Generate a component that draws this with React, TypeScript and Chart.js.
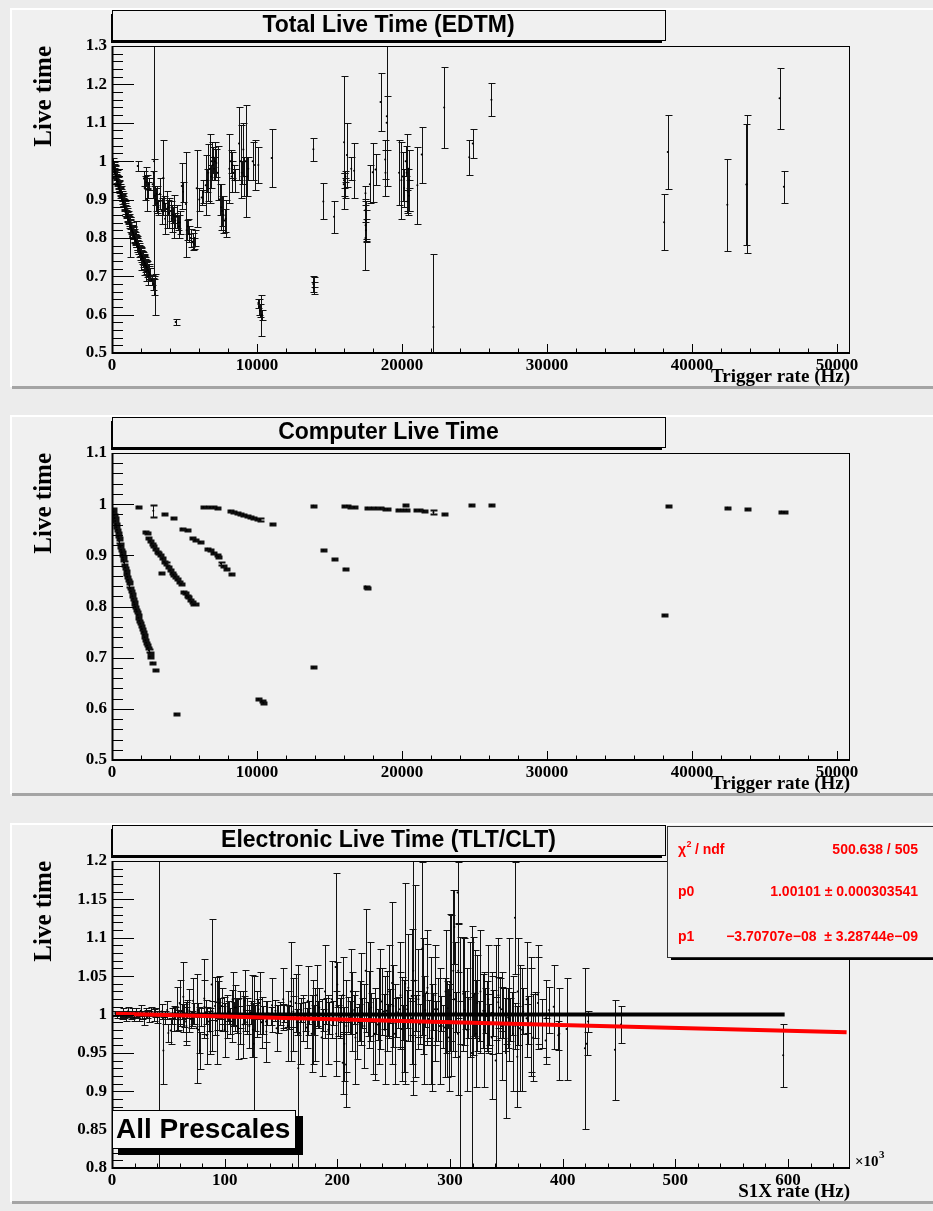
import React, { useEffect, useRef } from "react";
import { Chart, registerables } from "chart.js";

Chart.register(...registerables);

type Pt = [number, number, number]; // [x, live time, error]

// ================= Panel 1 : Total Live Time (EDTM) — x = trigger rate (Hz) =================
const edtmBand: Pt[] = [
  [60, 0.99, 0.009], [110, 0.983, 0.01], [160, 0.975, 0.008], [200, 0.969, 0.011], [250, 0.962, 0.009],
  [300, 0.954, 0.012], [340, 0.948, 0.01], [390, 0.941, 0.011], [430, 0.936, 0.009], [480, 0.929, 0.012],
  [520, 0.923, 0.01], [570, 0.916, 0.013], [610, 0.911, 0.011], [660, 0.905, 0.01], [700, 0.899, 0.012],
  [750, 0.893, 0.011], [800, 0.887, 0.013], [850, 0.88, 0.01], [900, 0.874, 0.012], [950, 0.868, 0.014],
  [1000, 0.862, 0.011], [1060, 0.855, 0.013], [1120, 0.848, 0.012], [1180, 0.841, 0.015], [1240, 0.834, 0.012],
  [1300, 0.828, 0.014], [1360, 0.821, 0.013], [1420, 0.815, 0.016], [1480, 0.809, 0.012], [1540, 0.802, 0.015],
  [1600, 0.796, 0.014], [1660, 0.79, 0.013], [1720, 0.784, 0.016], [1790, 0.777, 0.014], [1850, 0.772, 0.015],
  [1920, 0.765, 0.013], [1990, 0.758, 0.016], [2060, 0.752, 0.014], [2130, 0.746, 0.017], [2200, 0.74, 0.015],
  [2270, 0.734, 0.016], [2340, 0.728, 0.014], [2410, 0.722, 0.017], [2480, 0.716, 0.015], [2550, 0.71, 0.018],
  [2610, 0.705, 0.016], [1250, 0.803, 0.052], [1650, 0.81, 0.035], [2000, 0.745, 0.03], [2220, 0.73, 0.028],
  [2360, 0.712, 0.025], [2500, 0.7, 0.022], [2740, 0.69, 0.012], [2850, 0.68, 0.015], [2930, 0.672, 0.02],
  [2970, 0.653, 0.054], [2900, 1.0, 0.3],
];
const edtmBand2: Pt[] = [
  [80, 0.995, 0.012], [130, 0.985, 0.014], [190, 0.978, 0.012], [230, 0.972, 0.015], [280, 0.963, 0.013],
  [320, 0.96, 0.016], [370, 0.95, 0.014], [410, 0.946, 0.012], [460, 0.937, 0.015], [500, 0.934, 0.013],
  [550, 0.924, 0.016], [590, 0.921, 0.014], [640, 0.913, 0.015], [680, 0.909, 0.013], [730, 0.9, 0.016],
  [780, 0.895, 0.014], [830, 0.887, 0.015], [880, 0.882, 0.013], [930, 0.874, 0.016], [980, 0.87, 0.014],
  [1030, 0.861, 0.017], [1090, 0.855, 0.015], [1150, 0.846, 0.016], [1210, 0.84, 0.014], [1270, 0.832, 0.017],
  [1330, 0.826, 0.015], [1390, 0.818, 0.016], [1450, 0.813, 0.015], [1510, 0.805, 0.017], [1570, 0.8, 0.016],
  [1630, 0.792, 0.015], [1690, 0.787, 0.018], [1750, 0.779, 0.016], [1820, 0.774, 0.017], [1880, 0.766, 0.015],
  [1950, 0.761, 0.018], [2020, 0.753, 0.016], [2090, 0.748, 0.017], [2160, 0.74, 0.016], [2230, 0.736, 0.018],
  [2300, 0.728, 0.016], [2370, 0.724, 0.018], [2440, 0.716, 0.017], [2520, 0.712, 0.019], [2580, 0.704, 0.017],
];
const edtmMid: Pt[] = [
  [1770, 0.987, 0.013], [2200, 0.955, 0.02], [2250, 0.93, 0.03], [2320, 0.96, 0.025], [2380, 0.945, 0.018],
  [2420, 0.9, 0.03], [2480, 0.925, 0.02], [2560, 0.94, 0.015], [2800, 0.94, 0.035], [2870, 0.97, 0.035],
  [2950, 0.91, 0.025], [3010, 0.9, 0.03], [3080, 0.915, 0.02], [3130, 0.89, 0.025], [3200, 0.88, 0.02],
  [3310, 0.915, 0.04], [3420, 0.87, 0.035], [3540, 0.957, 0.098], [3600, 0.89, 0.02], [3660, 0.85, 0.04],
  [3770, 0.875, 0.048], [3850, 0.88, 0.02], [3950, 0.865, 0.04], [4050, 0.87, 0.025], [4120, 0.85, 0.035],
  [4200, 0.86, 0.02], [4280, 0.856, 0.056], [4370, 0.845, 0.02], [4460, 0.855, 0.03], [4550, 0.84, 0.02],
  [4620, 0.83, 0.03], [4690, 0.84, 0.03], [4810, 0.935, 0.06], [4900, 0.92, 0.026], [5100, 0.888, 0.137],
  [5150, 0.82, 0.026], [5230, 0.83, 0.02], [5330, 0.81, 0.02], [5430, 0.8, 0.023], [5560, 0.79, 0.022],
  [5640, 0.785, 0.015], [5700, 0.8, 0.02], [5840, 0.929, 0.1], [6020, 0.9, 0.03], [6180, 0.905, 0.02],
  [6300, 0.92, 0.03], [6460, 0.937, 0.078], [6550, 0.95, 0.03], [6640, 0.97, 0.074], [6760, 0.98, 0.09],
  [6830, 0.96, 0.03], [6870, 1.0, 0.05], [6950, 0.99, 0.02], [6990, 1.01, 0.026], [7050, 0.98, 0.03],
  [7100, 1.0, 0.05], [7200, 0.995, 0.037], [7300, 0.97, 0.07], [7420, 0.9, 0.04], [7520, 0.88, 0.06],
  [7600, 0.87, 0.04], [7680, 0.86, 0.048], [7760, 0.845, 0.03], [7840, 0.85, 0.048], [8090, 0.98, 0.09],
  [8180, 1.0, 0.03], [8250, 0.96, 0.04], [8300, 0.99, 0.035], [8380, 0.97, 0.02], [8450, 0.95, 0.03],
  [8760, 1.046, 0.095], [8870, 1.0, 0.095], [8950, 0.97, 0.03], [9060, 1.03, 0.07], [9120, 0.96, 0.05],
  [9220, 1.0, 0.146], [9330, 0.96, 0.052], [9400, 0.98, 0.03], [9700, 1.0, 0.05], [9860, 0.99, 0.065],
  [10090, 0.99, 0.048], [11010, 1.008, 0.075], [10090, 0.63, 0.012], [10150, 0.62, 0.02], [10200, 0.61, 0.017],
  [10280, 0.597, 0.054], [10350, 0.6, 0.013], [4390, 0.581, 0.007],
];
const edtmHigh: Pt[] = [
  [13890, 1.031, 0.03], [13880, 0.68, 0.02], [13900, 0.67, 0.015], [13920, 0.685, 0.012],
  [14575, 0.895, 0.047], [15315, 0.855, 0.041], [16005, 1.049, 0.174], [15980, 0.94, 0.03], [16000, 0.95, 0.02],
  [16050, 0.93, 0.025], [16100, 0.96, 0.015], [16200, 1.016, 0.083], [16500, 0.98, 0.03], [16700, 0.975, 0.072],
  [17470, 0.872, 0.03], [17480, 0.916, 0.02], [17490, 0.833, 0.04], [17500, 0.846, 0.05], [17510, 0.82, 0.03],
  [17480, 0.8, 0.085], [17780, 0.94, 0.05], [17980, 0.971, 0.077], [18175, 0.978, 0.04], [18520, 1.154, 0.075],
  [18840, 1.004, 0.05], [18860, 0.97, 0.06], [18940, 1.1, 0.07], [18950, 1.117, 0.183], [19800, 0.97, 0.085],
  [19960, 0.95, 0.1], [20060, 0.96, 0.065], [20150, 0.93, 0.05], [20250, 1.0, 0.04], [20320, 0.97, 0.1],
  [20380, 0.895, 0.03], [20400, 0.92, 0.06], [20450, 0.98, 0.05], [20480, 0.91, 0.04], [20500, 0.95, 0.08],
  [21060, 0.937, 0.1], [21360, 1.017, 0.073], [22170, 0.568, 0.19], [22910, 1.14, 0.106], [24640, 1.01, 0.046],
  [24880, 1.046, 0.037], [26170, 1.16, 0.043], [38080, 0.841, 0.073], [38330, 1.024, 0.097],
  [42440, 0.886, 0.119], [43750, 0.939, 0.157], [43800, 0.94, 0.18], [46040, 1.164, 0.079], [46340, 0.933, 0.041],
];

// ================= Panel 2 : Computer Live Time =================
const cltBandA: Pt[] = [
  [60, 0.991, 0.002], [100, 0.985, 0.002], [140, 0.979, 0.002], [180, 0.973, 0.002], [220, 0.967, 0.002],
  [260, 0.961, 0.002], [300, 0.955, 0.002], [340, 0.95, 0.002], [380, 0.944, 0.002], [420, 0.938, 0.002],
  [460, 0.933, 0.002], [500, 0.927, 0.002], [540, 0.922, 0.002], [580, 0.917, 0.002], [620, 0.911, 0.002],
  [660, 0.906, 0.002], [700, 0.901, 0.002], [740, 0.896, 0.002], [780, 0.891, 0.002], [820, 0.886, 0.002],
  [860, 0.881, 0.002], [900, 0.876, 0.002], [950, 0.87, 0.002], [1000, 0.864, 0.002], [1050, 0.858, 0.002],
  [1100, 0.852, 0.002], [1150, 0.847, 0.002], [1200, 0.841, 0.002], [1250, 0.836, 0.002], [1300, 0.83, 0.002],
  [1350, 0.825, 0.002], [1400, 0.82, 0.002], [1450, 0.815, 0.002], [1500, 0.809, 0.002], [1550, 0.804, 0.002],
  [1600, 0.799, 0.002], [1650, 0.794, 0.002], [1700, 0.79, 0.002], [1760, 0.784, 0.002], [1820, 0.778, 0.002],
  [1880, 0.772, 0.002], [1940, 0.767, 0.002], [2000, 0.761, 0.002], [2060, 0.756, 0.002], [2120, 0.75, 0.002],
  [2180, 0.745, 0.002], [2240, 0.74, 0.002], [2300, 0.734, 0.002], [2360, 0.729, 0.002], [2420, 0.724, 0.002],
  [2480, 0.719, 0.002], [2540, 0.714, 0.002], [2600, 0.71, 0.002], [2590, 0.702, 0.002], [2770, 0.69, 0.002],
  [3000, 0.675, 0.002],
];
const cltBandB: Pt[] = [
  [2276, 0.946, 0.002], [2391, 0.943, 0.002], [2506, 0.933, 0.002], [2620, 0.928, 0.002], [2736, 0.923, 0.002],
  [2851, 0.918, 0.002], [2966, 0.913, 0.002], [3080, 0.907, 0.002], [3195, 0.904, 0.002], [3310, 0.9, 0.002],
  [3471, 0.894, 0.002], [3586, 0.887, 0.002], [3701, 0.884, 0.002], [3839, 0.878, 0.002], [4000, 0.871, 0.002],
  [4115, 0.866, 0.002], [4230, 0.862, 0.002], [4345, 0.858, 0.002], [4460, 0.853, 0.002], [4621, 0.848, 0.002],
  [4759, 0.844, 0.002], [4920, 0.829, 0.002], [5034, 0.826, 0.002], [5149, 0.821, 0.002], [5264, 0.818, 0.002],
  [5379, 0.813, 0.002], [5494, 0.809, 0.002], [5609, 0.804, 0.002], [5724, 0.804, 0.002], [3356, 0.865, 0.002],
];
const cltBandC: Pt[] = [
  [4805, 0.952, 0.002], [5149, 0.949, 0.002], [5494, 0.933, 0.002], [5724, 0.93, 0.002], [6069, 0.926, 0.002],
  [6575, 0.913, 0.002], [6759, 0.911, 0.002], [6989, 0.905, 0.002], [7218, 0.9, 0.002], [7333, 0.897, 0.002],
  [7517, 0.884, 0.002], [7678, 0.879, 0.002], [7862, 0.874, 0.002], [8207, 0.863, 0.002],
];
const cltTop: Pt[] = [
  [1770, 0.995, 0.002], [2850, 0.987, 0.012], [3600, 0.981, 0.002], [4180, 0.973, 0.002], [6299, 0.994, 0.002],
  [6529, 0.995, 0.002], [6759, 0.994, 0.002], [6989, 0.994, 0.002], [7218, 0.992, 0.002], [8138, 0.987, 0.002],
  [8368, 0.985, 0.002], [8598, 0.983, 0.002], [8828, 0.981, 0.002], [9057, 0.979, 0.002], [9287, 0.977, 0.002],
  [9517, 0.974, 0.002], [9747, 0.973, 0.002], [9977, 0.971, 0.002], [10207, 0.97, 0.002], [11011, 0.961, 0.002],
  [13885, 0.997, 0.002], [16000, 0.996, 0.002], [16200, 0.997, 0.002], [16400, 0.995, 0.002], [16700, 0.994, 0.002],
  [17600, 0.993, 0.002], [17900, 0.993, 0.002], [18200, 0.993, 0.002], [18500, 0.992, 0.002], [18800, 0.991, 0.002],
  [19000, 0.99, 0.002], [19700, 0.989, 0.002], [19900, 0.989, 0.002], [20100, 0.989, 0.002], [20300, 0.989, 0.002],
  [20200, 0.998, 0.002], [20940, 0.988, 0.002], [21200, 0.988, 0.002], [21500, 0.987, 0.002], [22170, 0.984, 0.004],
  [22910, 0.98, 0.002], [24760, 0.998, 0.002], [26170, 0.998, 0.002], [38320, 0.996, 0.002], [42440, 0.993, 0.002],
  [43800, 0.99, 0.002], [46170, 0.985, 0.002], [46350, 0.984, 0.002],
];
const cltOther: Pt[] = [
  [4391, 0.59, 0.002], [10092, 0.619, 0.002], [10322, 0.615, 0.002], [10437, 0.612, 0.002], [13885, 0.681, 0.002],
  [14575, 0.91, 0.002], [15315, 0.892, 0.002], [16055, 0.874, 0.002], [17485, 0.839, 0.002], [17560, 0.837, 0.002],
  [38080, 0.783, 0.002],
];

// ================= Panel 3 : Electronic Live Time (TLT/CLT) — x = S1X rate (kHz) =================
const eltStart: Pt[] = [
  [3, 1.001, 0.003], [4.5, 0.999, 0.004], [6, 1.002, 0.003], [7, 1.0, 0.005], [8.5, 0.998, 0.004],
  [10, 1.003, 0.006], [11, 1.0, 0.004], [12.5, 0.997, 0.005], [14, 1.004, 0.006], [15.5, 1.001, 0.004],
  [17, 0.999, 0.005], [18, 1.002, 0.007], [19.5, 0.996, 0.005], [21, 1.003, 0.006], [22.5, 1.0, 0.004],
  [24, 0.998, 0.006], [25.5, 1.005, 0.007], [27, 0.999, 0.005], [28.5, 0.994, 0.008], [30, 1.002, 0.006],
  [31.5, 1.001, 0.005], [33, 0.997, 0.007], [35, 1.004, 0.006], [37, 0.999, 0.008], [41.7, 1.0, 0.32],
];
const eltMid: Pt[] = [
  [45.6, 0.953, 0.044], [50, 0.976, 0.012], [52, 0.979, 0.017], [55, 0.995, 0.016], [58, 1.007, 0.029],
  [60.3, 0.996, 0.009], [63.3, 1.023, 0.046], [65.7, 0.991, 0.025], [68.6, 1.005, 0.028], [71.3, 0.995, 0.01],
  [75.1, 0.982, 0.071], [78, 0.953, 0.024], [81.9, 1.021, 0.051], [84, 0.973, 0.037], [88.4, 1.039, 0.086],
  [91.4, 1.011, 0.038], [92.8, 0.992, 0.057], [94.3, 1.02, 0.024], [97.3, 1.011, 0.023], [99.4, 1.001, 0.022],
  [101.7, 0.998, 0.028], [104, 1.003, 0.015], [106.2, 0.998, 0.034], [109.1, 1.009, 0.03], [111.2, 0.998, 0.022],
  [113.6, 0.996, 0.035], [116.5, 0.987, 0.044], [119.5, 0.998, 0.024], [121.9, 0.985, 0.028], [124, 0.998, 0.053],
  [126, 0.962, 0.088], [128.4, 1.001, 0.03], [132.8, 0.99, 0.033], [136.7, 0.991, 0.027], [149, 1.001, 0.015],
  [151.5, 0.998, 0.016], [155, 0.998, 0.014], [158.5, 1.017, 0.078], [160.3, 1.0, 0.047], [165.3, 0.93, 0.135],
  [169.7, 0.996, 0.03], [172.7, 0.983, 0.026], [177.2, 0.975, 0.05], [180.1, 0.987, 0.048], [184, 1.009, 0.026],
  [187, 0.993, 0.014], [198.5, 1.062, 0.122], [200, 1.039, 0.029], [202.4, 0.996, 0.026], [204.7, 0.937, 0.04],
  [206.2, 0.962, 0.048], [207.7, 0.935, 0.055], [209.7, 1.0, 0.023], [213.3, 1.004, 0.051], [217.1, 0.976, 0.034],
  [220.1, 1.005, 0.039], [225.1, 1.057, 0.08], [228.3, 1.007, 0.05], [231.9, 0.972, 0.049], [237.2, 0.998, 0.063],
  [239.3, 1.017, 0.044], [243.7, 1.005, 0.052], [248.5, 1.041, 0.106], [249.6, 1.011, 0.053], [255.6, 1.007, 0.049],
  [257, 0.981, 0.068], [260.3, 1.04, 0.131], [264.4, 0.993, 0.028], [265.9, 1.024, 0.088], [267.4, 1.057, 0.143],
  [268.9, 1.044, 0.125], [271.8, 1.001, 0.03], [275.4, 1.086, 0.113], [276.3, 1.024, 0.076], [279.2, 1.029, 0.063],
  [283.1, 0.992, 0.083], [286.6, 1.007, 0.068], [289, 1.007, 0.041], [297, 0.981, 0.063], [300, 1.042, 0.089],
  [302.9, 1.057, 0.105], [307.3, 1.057, 0.061],
];
const eltHigh: Pt[] = [
  [295.5, 0.983, 0.065], [300.5, 1.025, 0.105], [303.8, 1.114, 0.048], [306.7, 1.159, 0.04], [308.8, 0.945, 0.156],
  [311.7, 1.027, 0.074], [319.4, 0.95, 0.165], [320.6, 1.024, 0.077], [322, 1.027, 0.057], [324.2, 1.015, 0.062],
  [329.5, 1.005, 0.048], [332.4, 0.998, 0.045], [333.9, 0.992, 0.035], [336.9, 1.002, 0.053], [340.5, 0.94, 0.15],
  [342.8, 1.016, 0.033], [344.3, 1.009, 0.039], [347.2, 1.002, 0.032], [348.7, 0.987, 0.035], [349.5, 0.95, 0.085],
  [351.6, 0.996, 0.039], [353.1, 0.994, 0.028], [357.6, 1.126, 0.073], [359.7, 0.945, 0.066], [362, 0.982, 0.082],
  [367.9, 0.995, 0.019], [371.5, 1.0, 0.075], [373.8, 0.97, 0.057], [377.7, 1.026, 0.065], [384.8, 0.966, 0.03],
  [396, 0.973, 0.019], [397, 0.975, 0.06], [403.4, 0.981, 0.066], [419.7, 0.956, 0.105], [421.2, 0.962, 0.015],
  [422.6, 0.991, 0.014], [446.3, 0.954, 0.065], [451.7, 0.987, 0.024], [595.7, 0.947, 0.041],
];
const eltDense: Pt[] = [
  [38, 1.003, 0.006], [40, 0.997, 0.008], [44, 1.004, 0.01], [47, 0.996, 0.009], [49, 1.006, 0.012],
  [53, 0.998, 0.01], [56, 1.002, 0.008], [59, 0.993, 0.013], [62, 1.004, 0.01], [64, 0.999, 0.015],
  [67, 1.007, 0.012], [70, 0.994, 0.011], [73, 1.001, 0.014], [76, 1.006, 0.009], [79, 0.997, 0.012],
  [83, 1.003, 0.016], [86, 0.991, 0.013], [89, 1.005, 0.012], [93, 0.998, 0.018], [96, 1.008, 0.014],
  [98, 0.995, 0.016], [103, 1.004, 0.013], [105, 0.992, 0.017], [108, 1.001, 0.015], [110, 1.009, 0.012],
  [114, 0.997, 0.014], [117, 1.006, 0.018], [120, 0.99, 0.016], [123, 1.003, 0.015], [127, 0.996, 0.017],
  [130, 1.007, 0.013], [134, 0.993, 0.018], [138, 1.002, 0.016], [141, 0.998, 0.012], [145, 1.005, 0.014],
  [147, 0.994, 0.018], [153, 1.001, 0.011], [157, 0.996, 0.015], [161, 1.004, 0.02], [164, 0.99, 0.017],
  [168, 1.006, 0.016], [171, 0.997, 0.019], [175, 1.003, 0.015], [179, 0.993, 0.02], [183, 1.0, 0.018],
  [190, 1.005, 0.017], [193, 0.995, 0.021], [196, 1.002, 0.016], [201, 0.992, 0.02], [203, 1.008, 0.018],
  [211, 0.996, 0.022], [215, 1.006, 0.019], [219, 0.99, 0.024], [222, 1.002, 0.02], [227, 0.994, 0.022],
  [230, 1.009, 0.019], [234, 0.998, 0.024], [236, 0.987, 0.02], [241, 1.004, 0.023], [245, 0.993, 0.021],
  [247, 1.011, 0.022], [252, 0.996, 0.025], [254, 1.003, 0.02], [258, 0.99, 0.023], [262, 1.007, 0.025],
  [266, 0.995, 0.022], [270, 1.002, 0.024], [273, 0.988, 0.026], [278, 1.006, 0.022], [281, 0.994, 0.025],
  [285, 1.004, 0.024], [288, 0.991, 0.026], [292, 1.001, 0.023], [294, 0.985, 0.028], [298, 1.008, 0.025],
  [301, 0.993, 0.027], [305, 1.003, 0.026], [309, 0.989, 0.028], [313, 1.006, 0.025], [316, 0.996, 0.027],
  [321, 1.0, 0.028], [326, 0.992, 0.026], [331, 1.005, 0.029], [335, 0.987, 0.027], [338, 1.002, 0.03],
  [341, 0.995, 0.028], [346, 1.007, 0.029], [350, 0.991, 0.03], [355, 1.001, 0.028], [358, 0.985, 0.03],
  [365, 1.004, 0.03], [369, 0.993, 0.031], [375, 0.999, 0.03], [382, 0.988, 0.032], [388, 1.006, 0.03],
];
const eltSpread: Pt[] = [
  [60, 1.015, 0.03], [66, 0.985, 0.025], [72, 1.018, 0.03], [77, 0.98, 0.03], [82, 1.01, 0.035],
  [87, 0.978, 0.03], [95, 1.015, 0.035], [100, 0.98, 0.035], [107, 1.02, 0.035], [112, 0.982, 0.04],
  [118, 1.018, 0.04], [125, 0.98, 0.035], [131, 1.015, 0.04], [137, 0.978, 0.04], [142, 1.012, 0.035],
  [146, 0.982, 0.03], [152, 1.02, 0.04], [156, 0.985, 0.045], [163, 1.015, 0.038], [167, 0.975, 0.04],
  [174, 1.018, 0.045], [178, 0.99, 0.055], [182, 1.025, 0.04], [186, 0.97, 0.05], [189, 1.03, 0.06],
  [192, 0.98, 0.045], [195, 1.02, 0.05], [199, 0.975, 0.055], [205, 1.025, 0.05], [208, 0.985, 0.06],
  [212, 1.03, 0.055], [216, 0.97, 0.06], [221, 1.02, 0.06], [224, 0.985, 0.055], [229, 1.03, 0.065],
  [233, 0.975, 0.06], [238, 1.02, 0.065], [242, 0.98, 0.07], [246, 1.03, 0.06], [251, 0.975, 0.065],
  [256, 1.025, 0.07], [259, 0.985, 0.06], [263, 1.035, 0.07], [267, 0.97, 0.075], [272, 1.02, 0.065],
  [277, 0.98, 0.07], [280, 1.035, 0.075], [284, 0.97, 0.07], [287, 1.025, 0.065], [291, 0.985, 0.075],
  [296, 1.03, 0.08], [299, 0.97, 0.07], [304, 1.02, 0.075], [307, 0.975, 0.08], [312, 1.03, 0.07],
  [315, 0.98, 0.08], [318, 1.02, 0.075], [323, 0.975, 0.07], [327, 1.03, 0.08], [330, 0.98, 0.075],
  [334, 1.02, 0.07], [337, 0.97, 0.08], [343, 1.025, 0.075], [346, 0.985, 0.07], [352, 1.02, 0.08],
  [356, 0.975, 0.075], [360, 1.03, 0.07], [364, 0.98, 0.08], [368, 1.02, 0.075], [372, 0.99, 0.07],
  [378, 1.015, 0.06], [385, 0.995, 0.05], [392, 1.01, 0.055],
];

const fitParams = [1.00101, -3.70707e-8]; // p0, p1 (per Hz)
const fitRangeK = [3.5, 652];
const unityLineK = [3.5, 597];
const unityLineY = [1, 1];
const statsLabels = ["χ2 / ndf", "p0", "p1"];
const statsValues = ["500.638 / 505", "1.00101 ± 0.000303541", "−3.70707e−08  ± 3.28744e−09"];

// Tick values
const rateTicks = [0, 10000, 20000, 30000, 40000, 50000];
const s1xTicks = [0, 100, 200, 300, 400, 500, 600];
const edtmYTicks = [0.5, 0.6, 0.7, 0.8, 0.9, 1, 1.1, 1.2, 1.3];
const cltYTicks = [0.5, 0.6, 0.7, 0.8, 0.9, 1, 1.1];
const eltYTicks = [0.8, 0.85, 0.9, 0.95, 1, 1.05, 1.1, 1.15, 1.2];

const SERIF = '"Liberation Serif", "Times New Roman", Times, serif';
const SANS = '"Liberation Sans", Arial, Helvetica, sans-serif';

type Spec = {
  title: string;
  points: Pt[];
  xMin: number; xMax: number; xMinor: number; xTicks: number[]; xTitle: string;
  yMin: number; yMax: number; yMinor: number; yTicks: number[];
  cap: number; capWidth: number;
  elt?: boolean;
};

const specs: Spec[] = [
  {
    title: "Total Live Time (EDTM)",
    points: [...edtmBand, ...edtmBand2, ...edtmMid, ...edtmHigh],
    xMin: 0, xMax: 50900, xMinor: 2000, xTicks: rateTicks, xTitle: "Trigger rate (Hz)",
    yMin: 0.5, yMax: 1.3, yMinor: 0.02, yTicks: edtmYTicks, cap: 3, capWidth: 1,
  },
  {
    title: "Computer Live Time",
    points: [...cltBandA, ...cltBandB, ...cltBandC, ...cltTop, ...cltOther],
    xMin: 0, xMax: 50900, xMinor: 2000, xTicks: rateTicks, xTitle: "Trigger rate (Hz)",
    yMin: 0.5, yMax: 1.1, yMinor: 0.02, yTicks: cltYTicks, cap: 3, capWidth: 2,
  },
  {
    title: "Electronic Live Time (TLT/CLT)",
    points: [...eltStart, ...eltMid, ...eltHigh, ...eltDense, ...eltSpread],
    xMin: 0, xMax: 655, xMinor: 20, xTicks: s1xTicks, xTitle: "S1X rate (Hz)",
    yMin: 0.8, yMax: 1.2, yMinor: 0.01, yTicks: eltYTicks, cap: 3, capWidth: 1, elt: true,
  },
];

function makePlugin(spec: Spec) {
  return {
    id: "rootPanel",
    beforeDraw(chart: any) {
      const ctx = chart.ctx;
      ctx.save();
      ctx.fillStyle = "#f0f0f0";
      ctx.fillRect(10, 8, 930, 381);
      ctx.fillStyle = "#ffffff";
      ctx.fillRect(10, 8, 930, 2);
      ctx.fillRect(10, 8, 2, 379);
      ctx.fillStyle = "#a4a4a4";
      ctx.fillRect(12, 386, 930, 3);
      ctx.restore();
    },
    beforeDatasetsDraw(chart: any) {
      const { ctx, chartArea: a, scales } = chart;
      const xs = scales.x, ys = scales.y;
      ctx.save();
      ctx.beginPath();
      ctx.rect(a.left, a.top, a.right - a.left, a.bottom - a.top);
      ctx.clip();
      ctx.strokeStyle = "#111";
      // vertical bars
      ctx.lineWidth = 1;
      ctx.beginPath();
      const caps: number[][] = [];
      for (const [x, v, e] of spec.points) {
        const px = Math.round(xs.getPixelForValue(x)) + 0.5;
        const y1 = Math.round(ys.getPixelForValue(v + e)) + 0.5;
        const y2 = Math.round(ys.getPixelForValue(v - e)) + 0.5;
        ctx.moveTo(px, y1);
        ctx.lineTo(px, y2);
        caps.push([px, y1], [px, y2]);
      }
      ctx.stroke();
      // end caps
      ctx.lineWidth = spec.capWidth;
      ctx.beginPath();
      for (const [px, py] of caps) {
        ctx.moveTo(px - spec.cap, py);
        ctx.lineTo(px + spec.cap + 1, py);
      }
      ctx.stroke();
      ctx.restore();
    },
    afterDraw(chart: any) {
      const { ctx, chartArea: a, scales } = chart;
      const xs = scales.x, ys = scales.y;
      ctx.save();
      // frame
      ctx.strokeStyle = "#000";
      ctx.lineWidth = 1;
      ctx.strokeRect(a.left + 0.5, a.top + 0.5, a.right - a.left - 1, a.bottom - a.top);
      ctx.lineWidth = 2;
      ctx.beginPath();
      ctx.moveTo(a.left + 0.5, a.top);
      ctx.lineTo(a.left + 0.5, a.bottom);
      ctx.lineTo(a.right, a.bottom);
      ctx.stroke();
      // ticks
      ctx.lineWidth = 1;
      ctx.beginPath();
      const nx = Math.round((spec.xMax - spec.xMin) / spec.xMinor);
      for (let i = 0; i <= nx; i++) {
        const v = spec.xMin + i * spec.xMinor;
        if (v > spec.xMax) break;
        const px = Math.round(xs.getPixelForValue(v)) + 0.5;
        const len = i % 5 === 0 ? 9 : 4.5;
        ctx.moveTo(px, a.bottom);
        ctx.lineTo(px, a.bottom - len);
      }
      const ny = Math.round((spec.yMax - spec.yMin) / spec.yMinor);
      for (let i = 0; i <= ny; i++) {
        const v = spec.yMin + i * spec.yMinor;
        const py = Math.round(ys.getPixelForValue(v)) + 0.5;
        const len = i % 5 === 0 ? 22 : 11;
        ctx.moveTo(a.left, py);
        ctx.lineTo(a.left + len, py);
      }
      ctx.stroke();

      // axis titles
      ctx.fillStyle = "#000";
      ctx.font = `bold 19px ${SERIF}`;
      ctx.textAlign = "right";
      ctx.textBaseline = "middle";
      ctx.fillText(spec.xTitle, a.right, a.bottom + 24);
      ctx.save();
      ctx.translate(45, a.top);
      ctx.rotate(-Math.PI / 2);
      ctx.font = `bold 25px ${SERIF}`;
      ctx.textAlign = "right";
      ctx.textBaseline = "middle";
      ctx.fillText("Live time", 0, 0);
      ctx.restore();

      // title box
      const tx1 = 112, ty1 = 10, tx2 = 665, ty2 = 40;
      ctx.fillStyle = "#000";
      ctx.fillRect(tx1 - 1, ty1 + 4, 3, ty2 - ty1 - 1);
      ctx.fillRect(tx1 + 2, ty2, tx2 - tx1 - 5, 3);
      ctx.fillStyle = "#f0f0f0";
      ctx.fillRect(tx1 + 1, ty1, tx2 - tx1 - 1, ty2 - ty1);
      ctx.strokeStyle = "#000";
      ctx.lineWidth = 1;
      ctx.strokeRect(tx1 + 0.5, ty1 + 0.5, tx2 - tx1, ty2 - ty1);
      ctx.fillStyle = "#000";
      ctx.font = `bold 23px ${SANS}`;
      ctx.textAlign = "center";
      ctx.textBaseline = "middle";
      ctx.fillText(spec.title, (tx1 + tx2) / 2, (ty1 + ty2) / 2 + 1);

      if (spec.elt) {
        // stats box
        const sx1 = 667, sy1 = 11, sy2 = 142;
        ctx.fillStyle = "#000";
        ctx.fillRect(sx1 + 4, sy2, 300, 3);
        ctx.fillStyle = "#f0f0f0";
        ctx.fillRect(sx1, sy1, 300, sy2 - sy1);
        ctx.strokeStyle = "#333";
        ctx.strokeRect(sx1 + 0.5, sy1 + 0.5, 300, sy2 - sy1);
        ctx.fillStyle = "#ff0000";
        ctx.textBaseline = "middle";
        const rows = [35, 77, 122];
        for (let r = 0; r < 3; r++) {
          ctx.font = `bold 14px ${SANS}`;
          ctx.textAlign = "left";
          const lab = statsLabels[r];
          if (lab.startsWith("χ2")) {
            ctx.fillText("χ", 678, rows[r]);
            const w = ctx.measureText("χ").width;
            ctx.font = `bold 9px ${SANS}`;
            ctx.fillText("2", 678 + w + 0.5, rows[r] - 5);
            ctx.font = `bold 14px ${SANS}`;
            ctx.fillText(lab.slice(2), 678 + w + 5, rows[r]);
          } else {
            ctx.fillText(lab, 678, rows[r]);
          }
          ctx.textAlign = "right";
          ctx.fillText(statsValues[r], 918, rows[r]);
        }
        // All Prescales box
        const bx1 = 112, by1 = 295, bx2 = 296, by2 = 334;
        ctx.fillStyle = "#000";
        ctx.fillRect(bx2, by1 + 6, 7, by2 - by1);
        ctx.fillRect(bx1 + 6, by2, bx2 - bx1, 6);
        ctx.fillStyle = "#f6f6f6";
        ctx.fillRect(bx1, by1, bx2 - bx1, by2 - by1);
        ctx.strokeStyle = "#000";
        ctx.strokeRect(bx1 + 0.5, by1 + 0.5, bx2 - bx1 - 1, by2 - by1 - 1);
        ctx.fillStyle = "#000";
        ctx.font = `bold 28px ${SANS}`;
        ctx.textAlign = "left";
        ctx.textBaseline = "middle";
        ctx.fillText("All Prescales", bx1 + 4, (by1 + by2) / 2 + 1);
        // x10^3
        ctx.font = `bold 15px ${SERIF}`;
        ctx.textBaseline = "alphabetic";
        ctx.fillText("×10", 855, 351);
        const w3 = ctx.measureText("×10").width;
        ctx.font = `bold 11px ${SERIF}`;
        ctx.fillText("3", 855 + w3 + 0.5, 343);
      }
      ctx.restore();
    },
  };
}

function buildConfig(spec: Spec): any {
  const fmt = (v: any) => String(+Number(v).toFixed(3));
  const tickFont = { family: SERIF, size: 17, weight: "bold" as const };
  const datasets: any[] = [
    {
      data: spec.points.map((p) => ({ x: p[0], y: p[1] })),
      pointRadius: 1,
      pointBorderWidth: 0,
      pointBackgroundColor: "#000",
      showLine: false,
      order: 3,
    },
  ];
  if (spec.elt) {
    datasets.push({
      data: unityLineK.map((x, i) => ({ x, y: unityLineY[i] })),
      showLine: true,
      borderColor: "#000",
      borderWidth: 4,
      pointRadius: 0,
      order: 2,
    });
    datasets.push({
      data: fitRangeK.map((x) => ({ x, y: fitParams[0] + fitParams[1] * x * 1000 })),
      showLine: true,
      borderColor: "#ff0000",
      borderWidth: 4,
      pointRadius: 0,
      order: 1,
    });
  }
  return {
    type: "scatter",
    data: { datasets },
    options: {
      animation: false,
      responsive: false,
      devicePixelRatio: 1,
      events: [],
      layout: { padding: { top: 46, left: 0, right: 83, bottom: 0 } },
      plugins: { legend: { display: false }, tooltip: { enabled: false }, title: { display: false } },
      scales: {
        x: {
          type: "linear",
          min: spec.xMin,
          max: spec.xMax,
          afterFit: (s: any) => { s.height = 51; },
          afterBuildTicks: (s: any) => { s.ticks = spec.xTicks.map((v) => ({ value: v })); },
          grid: { display: false, drawTicks: false },
          border: { display: false },
          ticks: { autoSkip: false, maxRotation: 0, padding: 2, color: "#000", font: tickFont, callback: fmt },
        },
        y: {
          type: "linear",
          min: spec.yMin,
          max: spec.yMax,
          afterFit: (s: any) => { s.width = 112; },
          afterBuildTicks: (s: any) => { s.ticks = spec.yTicks.map((v) => ({ value: v })); },
          grid: { display: false, drawTicks: false },
          border: { display: false },
          ticks: { autoSkip: false, padding: 5, color: "#000", font: tickFont, callback: fmt },
        },
      },
    },
    plugins: [makePlugin(spec)],
  };
}

function Panel({ spec, top }: { spec: Spec; top: number }) {
  const ref = useRef<HTMLCanvasElement>(null);
  useEffect(() => {
    if (!ref.current) return;
    const chart = new Chart(ref.current, buildConfig(spec));
    return () => chart.destroy();
  }, [spec]);
  return (
    <canvas
      ref={ref}
      width={933}
      height={404}
      style={{ position: "absolute", left: 0, top, width: 933, height: 404, display: "block" }}
    />
  );
}

export default function App() {
  return (
    <div
      style={{
        position: "absolute",
        left: 0,
        top: 0,
        width: 933,
        height: 1211,
        overflow: "hidden",
        background: "#ececec",
      }}
    >
      <Panel spec={specs[0]} top={0} />
      <Panel spec={specs[1]} top={407} />
      <Panel spec={specs[2]} top={815} />
    </div>
  );
}
